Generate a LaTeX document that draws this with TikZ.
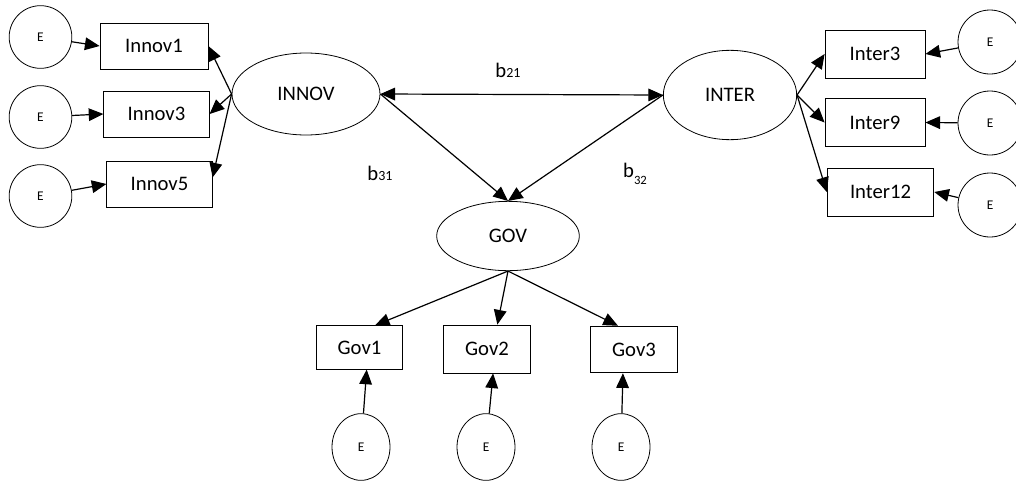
\documentclass[tikz,border=0pt]{standalone}
\usepackage{fontspec}
\setmainfont{Carlito}
\usepackage{tikz}
\usetikzlibrary{shapes.geometric,arrows.meta}

\begin{document}
\begin{tikzpicture}[
        x=0.75pt, y=-0.75pt,          % one unit per pixel, y downwards
        >={Triangle[length=11pt,width=9.5pt]},
        latent/.style={
            ellipse,
            draw,
            line width=0.6pt,
            inner sep=0pt,
            font=\fontsize{15.5}{18}\selectfont
        },
        item/.style={
            rectangle,
            draw,
            line width=0.6pt,
            inner sep=0pt,
            minimum width=79pt,       % indicator boxes
            minimum height=34.5pt,
            font=\fontsize{15.5}{18}\selectfont
        },
        err/.style={
            circle,
            draw,
            line width=0.6pt,
            inner sep=0pt,
            minimum size=47pt,
            font=\fontsize{10}{12}\selectfont
        },
        errv/.style={err, ellipse, minimum width=43.5pt, minimum height=50pt},
        coef/.style={font=\fontsize{15.5}{18}\selectfont},
        arrow/.style={->, line width=0.9pt}
    ]
        \useasboundingbox (0,0) rectangle (1016,482);

        % 潜变量
        \node[latent, minimum width=111pt, minimum height=61.5pt] (innov) at (306,94) {INNOV};
        \node[latent, minimum width=100pt, minimum height=67pt] (inter) at (730,95) {INTER};
        \node[latent, minimum width=107pt, minimum height=52pt] (gov) at (508,236) {GOV};

        % 观测变量
        \node[item, minimum width=81pt] (in1) at (154,46) {Innov1};
        \node[item] (in3) at (156.5,114) {Innov3};
        \node[item] (in5) at (159.5,184) {Innov5};
        \node[item, minimum width=75pt, minimum height=36pt] (it3) at (875,54) {Inter3};
        \node[item, minimum width=75pt, minimum height=36pt] (it9) at (875,122.5) {Inter9};
        \node[item, minimum width=80pt, minimum height=36pt] (it12) at (880.5,192) {Inter12};
        \node[item, minimum width=65pt, minimum height=32.5pt] (g1) at (359.5,347.5) {Gov1};
        \node[item, minimum width=65pt, minimum height=36pt] (g2) at (487,349) {Gov2};
        \node[item, minimum width=65pt, minimum height=35pt] (g3) at (634,349.5) {Gov3};

        % 误差项
        \node[err] (e1) at (40.5,37) {E};
        \node[err] (e2) at (40.5,117) {E};
        \node[err] (e3) at (40.5,196) {E};
        \node[err, minimum size=48pt] (e4) at (990,42) {E};
        \node[err, minimum size=48pt] (e5) at (990,123) {E};
        \node[err, minimum size=48pt] (e6) at (990,205) {E};
        \node[errv] (e7) at (361,447) {E};
        \node[errv] (e8) at (486,447) {E};
        \node[errv] (e9) at (621,447) {E};

        % 路径系数
        \node[coef] (b21) at (508,70) {b{\fontsize{10.5}{12}\selectfont 21}};
        \node[coef] (b31) at (380,173) {b{\fontsize{10.5}{12}\selectfont 31}};
        \node[coef] (b32) at (635,174) {b\raisebox{-5pt}{\fontsize{9.5}{11}\selectfont 32}};

        % 边
        \draw[arrow] (e1) -- (in1.west);
        \draw[arrow] (e2) -- (in3.west);
        \draw[arrow] (e3) -- (in5.west);
        \draw[arrow] (innov.west) -- (in1.east);
        \draw[arrow] (innov.west) -- (in3.east);
        \draw[arrow] (innov.west) -- (in5.7);
        \draw[arrow, <->] (innov.east) -- (inter.west);
        \draw[arrow] (innov.east) -- (gov.north);
        \draw[arrow] (inter.west) -- (gov.north);
        \draw[arrow] (inter.east) -- (it3.west);
        \draw[arrow] (inter.east) -- (it9.west);
        \draw[arrow] (inter.east) -- (it12.west);
        \draw[arrow] (e4) -- (it3.east);
        \draw[arrow] (e5) -- (it9.east);
        \draw[arrow] (e6) -- (it12.east);
        \draw[arrow] (gov.south) -- (g1.55);
        \draw[arrow] (gov.south) -- (g2.67);
        \draw[arrow] (gov.south) -- (g3.124);
        \draw[arrow] (e7) -- (g1.-72);
        \draw[arrow] (e8) -- (g2.-76);
        \draw[arrow] (e9) -- (g3.-115);
    \end{tikzpicture}
\end{document}
